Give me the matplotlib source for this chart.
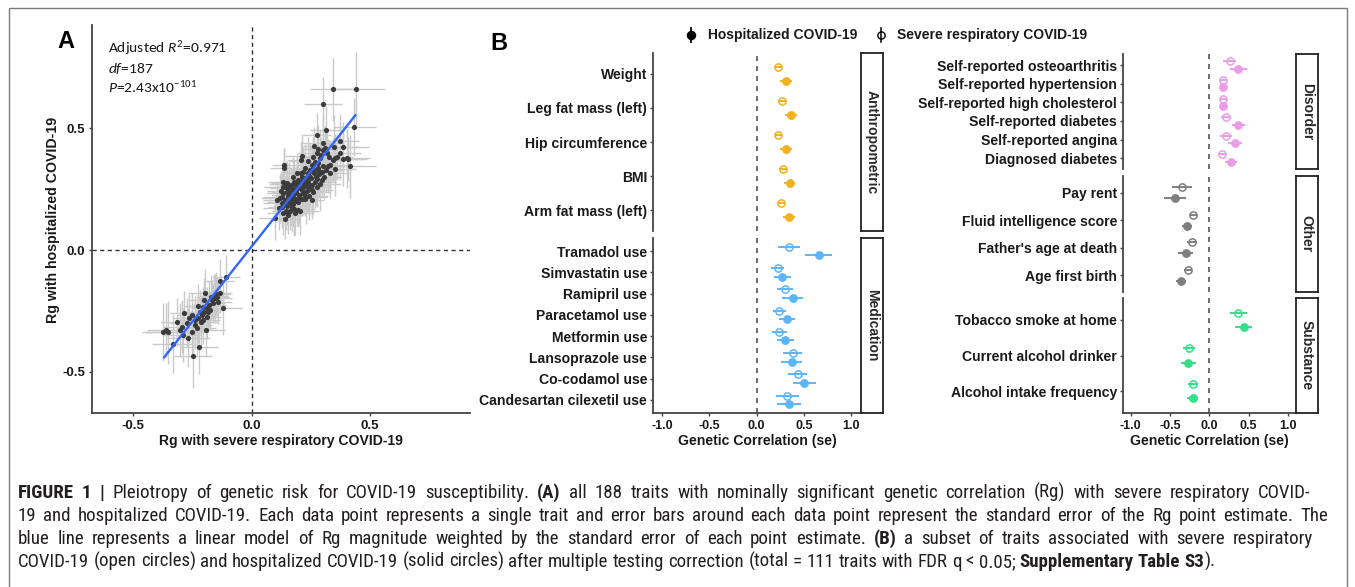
import matplotlib
matplotlib.use("Agg")
import matplotlib.pyplot as plt
from matplotlib import font_manager
from matplotlib.patches import Rectangle
import numpy as np

# ---------------- Panel A data (Rg severe vs Rg hospitalized) ----------------
rg_severe = [
    0.345, 0.441, 0.303, 0.434, 0.315, 0.275, 0.372, 0.300, 0.265, 0.348,
    0.282, 0.300, 0.275, 0.387, 0.211, 0.258, 0.289, 0.352, 0.385, 0.406,
    0.210, 0.239, 0.268, 0.303, 0.324, 0.254, 0.137, 0.137, 0.417, 0.225,
    0.261, 0.352, 0.193, 0.218, 0.239, 0.286, 0.272, 0.176, 0.211, 0.251,
    0.230, 0.268, 0.131, 0.151, 0.190, 0.165, 0.204, 0.225, 0.246, 0.134,
    0.148, 0.173, 0.194, 0.211, 0.232, 0.254, 0.159, 0.183, 0.134, 0.201,
    0.221, 0.173, 0.152, 0.120, 0.108, 0.141, 0.190, 0.211, 0.162, 0.127,
    0.176, 0.197, 0.148, 0.169, 0.117, 0.197, 0.145, 0.179, 0.134, 0.155,
    0.204, 0.100, 0.141, 0.225, 0.244, 0.261, 0.275, 0.289, 0.296, 0.306,
    0.282, 0.331, 0.345, 0.263, 0.179, 0.159, 0.239, 0.218, 0.124, 0.254,
    0.182, 0.162, 0.282, 0.292, 0.310, 0.246, 0.197, 0.128, 0.359, 0.328,
    0.232, 0.208, 0.144, 0.169, 0.189, 0.230, 0.317, 0.256, 0.401, 0.187,
    0.207, 0.225, 0.242, 0.261, 0.279, 0.156, 0.176, 0.199, 0.215, 0.145,
    0.165, 0.127, 0.221, 0.238, 0.151, 0.185, 0.275, 0.296, 0.314, 0.331,
    0.373,
    -0.373, -0.362, -0.352, -0.314, -0.303, -0.285, -0.275, -0.268, -0.254, -0.249,
    -0.239, -0.221, -0.218, -0.214, -0.207, -0.201, -0.197, -0.193, -0.190, -0.183,
    -0.179, -0.173, -0.162, -0.155, -0.151, -0.145, -0.134, -0.120, -0.108, -0.225,
    -0.211, -0.232, -0.201, -0.176, -0.254, -0.296, -0.331, -0.141, -0.239, -0.166,
    -0.187, -0.263, -0.292, -0.134, -0.159, -0.204, -0.225,
]
rg_hosp = [
    0.660, 0.663, 0.601, 0.507, 0.493, 0.474, 0.448, 0.441, 0.427, 0.425,
    0.415, 0.411, 0.400, 0.425, 0.386, 0.384, 0.378, 0.377, 0.375, 0.374,
    0.370, 0.366, 0.363, 0.345, 0.345, 0.348, 0.348, 0.338, 0.344, 0.336,
    0.332, 0.332, 0.318, 0.322, 0.315, 0.312, 0.301, 0.301, 0.301, 0.295,
    0.288, 0.281, 0.281, 0.277, 0.277, 0.267, 0.270, 0.266, 0.263, 0.260,
    0.253, 0.251, 0.253, 0.247, 0.244, 0.247, 0.240, 0.236, 0.233, 0.226,
    0.230, 0.219, 0.222, 0.212, 0.205, 0.205, 0.208, 0.211, 0.199, 0.192,
    0.189, 0.196, 0.181, 0.175, 0.171, 0.164, 0.162, 0.167, 0.151, 0.144,
    0.162, 0.130, 0.126, 0.210, 0.222, 0.240, 0.258, 0.271, 0.288, 0.301,
    0.336, 0.315, 0.370, 0.315, 0.281, 0.260, 0.281, 0.258, 0.244, 0.205,
    0.151, 0.162, 0.356, 0.390, 0.418, 0.329, 0.288, 0.219, 0.384, 0.384,
    0.301, 0.315, 0.270, 0.212, 0.240, 0.219, 0.397, 0.267, 0.377, 0.267,
    0.281, 0.295, 0.304, 0.322, 0.329, 0.226, 0.247, 0.219, 0.236, 0.199,
    0.189, 0.178, 0.274, 0.260, 0.240, 0.201, 0.290, 0.322, 0.329, 0.349,
    0.397,
    -0.336, -0.329, -0.338, -0.297, -0.329, -0.260, -0.299, -0.360, -0.267, -0.436,
    -0.288, -0.399, -0.253, -0.295, -0.233, -0.205, -0.178, -0.329, -0.274, -0.253,
    -0.226, -0.192, -0.219, -0.199, -0.181, -0.192, -0.127, -0.240, -0.110, -0.281,
    -0.267, -0.322, -0.253, -0.247, -0.336, -0.315, -0.386, -0.212, -0.308, -0.205,
    -0.240, -0.281, -0.349, -0.178, -0.189, -0.288, -0.230,
]
se_severe = [
    0.10, 0.12, 0.08, 0.09, 0.07, 0.06, 0.08, 0.09, 0.05, 0.10,
    0.07, 0.06, 0.08, 0.11, 0.07, 0.06, 0.09, 0.08, 0.10, 0.07,
    0.06, 0.08, 0.05, 0.07, 0.09, 0.06, 0.05, 0.06, 0.11, 0.08,
    0.07, 0.09, 0.06, 0.08, 0.05, 0.07, 0.09, 0.06, 0.08, 0.07,
    0.05, 0.09, 0.06, 0.07, 0.08, 0.05, 0.07, 0.09, 0.06, 0.08,
    0.07, 0.05, 0.06, 0.08, 0.07, 0.09, 0.06, 0.05, 0.07, 0.08,
    0.06, 0.07, 0.05, 0.08, 0.06, 0.07, 0.09, 0.05, 0.06, 0.08,
    0.07, 0.05, 0.06, 0.08, 0.07, 0.05, 0.06, 0.09, 0.07, 0.06,
    0.08, 0.07, 0.06, 0.05, 0.08, 0.07, 0.06, 0.09, 0.05, 0.07,
    0.06, 0.08, 0.07, 0.05, 0.06, 0.08, 0.07, 0.09, 0.06, 0.05,
    0.07, 0.06, 0.08, 0.05, 0.07, 0.09, 0.06, 0.08, 0.07, 0.05,
    0.06, 0.08, 0.07, 0.05, 0.06, 0.09, 0.07, 0.08, 0.10, 0.06,
    0.05, 0.07, 0.06, 0.08, 0.05, 0.07, 0.06, 0.09, 0.05, 0.08,
    0.07, 0.06, 0.05, 0.08, 0.07, 0.06, 0.09, 0.05, 0.07, 0.08,
    0.09,
    0.09, 0.08, 0.10, 0.07, 0.08, 0.06, 0.07, 0.09, 0.06, 0.08,
    0.07, 0.08, 0.06, 0.07, 0.05, 0.06, 0.07, 0.08, 0.06, 0.05,
    0.07, 0.06, 0.05, 0.07, 0.06, 0.05, 0.06, 0.08, 0.06, 0.07,
    0.05, 0.08, 0.06, 0.05, 0.07, 0.08, 0.09, 0.06, 0.07, 0.05,
    0.06, 0.07, 0.08, 0.05, 0.06, 0.07, 0.06,
]
se_hosp = [
    0.13, 0.15, 0.11, 0.12, 0.10, 0.09, 0.11, 0.12, 0.08, 0.13,
    0.10, 0.09, 0.11, 0.10, 0.09, 0.08, 0.12, 0.10, 0.11, 0.09,
    0.08, 0.10, 0.07, 0.09, 0.11, 0.08, 0.07, 0.08, 0.13, 0.10,
    0.09, 0.11, 0.08, 0.10, 0.07, 0.09, 0.12, 0.08, 0.10, 0.09,
    0.07, 0.11, 0.08, 0.09, 0.10, 0.07, 0.09, 0.11, 0.08, 0.10,
    0.09, 0.07, 0.08, 0.10, 0.09, 0.12, 0.08, 0.07, 0.09, 0.10,
    0.08, 0.09, 0.07, 0.10, 0.08, 0.09, 0.11, 0.07, 0.08, 0.10,
    0.09, 0.07, 0.08, 0.10, 0.09, 0.07, 0.08, 0.11, 0.09, 0.08,
    0.10, 0.09, 0.08, 0.07, 0.10, 0.09, 0.08, 0.11, 0.07, 0.09,
    0.08, 0.10, 0.09, 0.07, 0.08, 0.10, 0.09, 0.11, 0.08, 0.07,
    0.09, 0.08, 0.10, 0.07, 0.09, 0.11, 0.08, 0.10, 0.09, 0.07,
    0.08, 0.10, 0.09, 0.07, 0.08, 0.11, 0.09, 0.10, 0.12, 0.08,
    0.07, 0.09, 0.08, 0.10, 0.07, 0.09, 0.08, 0.11, 0.07, 0.10,
    0.09, 0.08, 0.07, 0.10, 0.09, 0.08, 0.11, 0.07, 0.09, 0.10,
    0.11,
    0.12, 0.11, 0.13, 0.10, 0.11, 0.09, 0.10, 0.12, 0.09, 0.13,
    0.10, 0.11, 0.09, 0.10, 0.08, 0.09, 0.10, 0.11, 0.09, 0.08,
    0.10, 0.09, 0.08, 0.10, 0.09, 0.08, 0.09, 0.11, 0.09, 0.10,
    0.08, 0.11, 0.09, 0.08, 0.10, 0.11, 0.12, 0.09, 0.10, 0.08,
    0.09, 0.10, 0.11, 0.08, 0.09, 0.10, 0.09,
]
# weighted linear model, read as its two end points
fit_x = [-0.373, 0.441]
fit_y = [-0.445, 0.558]
annot_lines = [r"Adjusted $\mathit{R}^{2}$=0.971", r"$\mathit{df}$=187", r"$\mathit{P}$=2.43x10$^{-101}$"]
ticks_A = [-0.5, 0.0, 0.5]
ticklabels_A = ["-0.5", "0.0", "0.5"]

# ---------------- Panel B data ----------------
anthro_traits = ["Weight", "Leg fat mass (left)", "Hip circumference", "BMI", "Arm fat mass (left)"]
anthro_severe = [0.23, 0.27, 0.23, 0.28, 0.26]
anthro_severe_se = [0.04, 0.04, 0.04, 0.04, 0.04]
anthro_hosp = [0.31, 0.36, 0.31, 0.35, 0.34]
anthro_hosp_se = [0.06, 0.065, 0.06, 0.06, 0.06]

med_traits = ["Tramadol use", "Simvastatin use", "Ramipril use", "Paracetamol use",
              "Metformin use", "Lansoprazole use", "Co-codamol use", "Candesartan cilexetil use"]
med_severe = [0.34, 0.22, 0.30, 0.24, 0.24, 0.38, 0.435, 0.325]
med_severe_se = [0.115, 0.07, 0.085, 0.065, 0.08, 0.10, 0.10, 0.12]
med_hosp = [0.655, 0.27, 0.38, 0.325, 0.30, 0.37, 0.505, 0.34]
med_hosp_se = [0.14, 0.09, 0.11, 0.085, 0.09, 0.11, 0.12, 0.13]

dis_traits = ["Self-reported osteoarthritis", "Self-reported hypertension", "Self-reported high cholesterol",
              "Self-reported diabetes", "Self-reported angina", "Diagnosed diabetes"]
dis_severe = [0.26, 0.17, 0.18, 0.21, 0.21, 0.165]
dis_severe_se = [0.085, 0.04, 0.045, 0.065, 0.075, 0.055]
dis_hosp = [0.37, 0.18, 0.18, 0.37, 0.33, 0.275]
dis_hosp_se = [0.105, 0.04, 0.045, 0.085, 0.09, 0.08]

oth_traits = ["Pay rent", "Fluid intelligence score", "Father's age at death", "Age first birth"]
oth_severe = [-0.35, -0.20, -0.22, -0.27]
oth_severe_se = [0.125, 0.045, 0.065, 0.055]
oth_hosp = [-0.43, -0.28, -0.30, -0.36]
oth_hosp_se = [0.14, 0.06, 0.10, 0.065]

sub_traits = ["Tobacco smoke at home", "Current alcohol drinker", "Alcohol intake frequency"]
sub_severe = [0.37, -0.255, -0.21]
sub_severe_se = [0.105, 0.075, 0.065]
sub_hosp = [0.44, -0.265, -0.21]
sub_hosp_se = [0.11, 0.095, 0.07]

ticks_B = [-1.0, -0.5, 0.0, 0.5, 1.0]
ticklabels_B = ["-1.0", "-0.5", "0.0", "0.5", "1.0"]

caption = [
    "**FIGURE 1 |** Pleiotropy of genetic risk for COVID-19 susceptibility. **(A)** all 188 traits with nominally significant genetic correlation (Rg) with severe respiratory COVID-",
    "19 and hospitalized COVID-19. Each data point represents a single trait and error bars around each data point represent the standard error of the Rg point estimate. The",
    "blue line represents a linear model of Rg magnitude weighted by the standard error of each point estimate. **(B)** a subset of traits associated with severe respiratory",
    "COVID-19 (open circles) and hospitalized COVID-19 (solid circles) after multiple testing correction (total = 111 traits with FDR q < 0.05; **Supplementary Table S3**).",
]

# ---------------- setup ----------------
W, H = 1355, 587
fl = font_manager.fontManager.ttflist
names = {f.name for f in fl}


def has_bold(name):
    return any(f.name == name and f.style == 'normal' and int(f.weight) >= 600 for f in fl)


SANS = 'Liberation Sans' if 'Liberation Sans' in names else 'DejaVu Sans'
NARROW = SANS
for cand in ['Liberation Sans Narrow', 'Roboto Condensed', 'Archivo Narrow', 'PT Sans Narrow',
             'Pragati Narrow', 'Arimo Narrow', 'IBM Plex Sans Condensed', 'Fira Sans Condensed']:
    if cand in names and has_bold(cand):
        NARROW = cand
        break
ANNOT = 'Carlito' if 'Carlito' in names else ('Lato' if 'Lato' in names else SANS)
plt.rcParams['font.family'] = [SANS, 'DejaVu Sans']
plt.rcParams['mathtext.fontset'] = 'custom'
plt.rcParams['mathtext.rm'] = ANNOT
plt.rcParams['mathtext.it'] = ANNOT + ':italic'
plt.rcParams['mathtext.bf'] = ANNOT + ':bold'

fig = plt.figure(figsize=(W / 100, H / 100), dpi=100)
fig.patch.set_facecolor('white')
renderer = fig.canvas.get_renderer()


def box(l, t, r, b):
    return [l / W, 1 - b / H, (r - l) / W, (b - t) / H]


def measure(s, **kw):
    t = fig.text(0, 0, s, **kw)
    w = t.get_window_extent(renderer).width
    t.remove()
    return w


def fit(s, target, **kw):
    return 10.0 * target / measure(s, fontsize=10, **kw)


INK = '#1a1a1a'
AXC = '#444444'

# overlay for border, legend, caption
ov = fig.add_axes([0, 0, 1, 1], zorder=-1)
ov.set_xlim(0, W)
ov.set_ylim(H, 0)
ov.axis('off')
ov.add_patch(Rectangle((9, 8), 1338, 700, fill=False, ec='#7a7a7a', lw=1.0))

# ---------------- Panel A ----------------
axA = fig.add_axes(box(92.3, 25, 470, 413.3))
axA.errorbar(rg_severe, rg_hosp, xerr=se_severe, yerr=se_hosp, fmt='none',
             ecolor='#CACACA', elinewidth=1.0, zorder=1)
axA.axvline(0, color='#333333', lw=1.0, ls=(0, (3, 2.5)), zorder=2)
axA.axhline(0, color='#333333', lw=1.0, ls=(0, (3, 2.5)), zorder=2)
axA.scatter(rg_severe, rg_hosp, s=14, color='#3B3B3B', linewidths=0, zorder=3)
axA.plot(fit_x, fit_y, color='#3366FF', lw=1.7, zorder=4, solid_capstyle='butt')
axA.set_xlim(-0.673, 0.922)
axA.set_ylim(-0.671, 0.925)
for s in ['top', 'right']:
    axA.spines[s].set_visible(False)
for s in ['left', 'bottom']:
    axA.spines[s].set_color(AXC)
    axA.spines[s].set_linewidth(1.3)
fsA = fit("-0.5", 23, fontweight='bold')
axA.set_xticks(ticks_A)
axA.set_xticklabels(ticklabels_A, fontweight='bold', fontsize=fsA, color=INK)
axA.set_yticks(ticks_A)
axA.set_yticklabels(ticklabels_A, fontweight='bold', fontsize=fsA, color=INK)
axA.tick_params(length=2.5, width=1.0, color=AXC, pad=2.5)

fx = fit("Rg with severe respiratory COVID-19", 245, fontweight='bold')
fig.text(281 / W, 1 - 441 / H, "Rg with severe respiratory COVID-19", fontsize=fx,
         fontweight='bold', ha='center', va='center', color=INK)
fy = fit("Rg with hospitalized COVID-19", 206, fontweight='bold')
fig.text(53 / W, 1 - 220 / H, "Rg with hospitalized COVID-19", fontsize=fy,
         fontweight='bold', ha='center', va='center', rotation=90, color=INK)
fig.text(66 / W, 1 - 42 / H, "A", fontsize=17, fontweight='bold', ha='center', va='center', color='black')
fa = fit(annot_lines[0], 119, family=ANNOT)
for txt, yy in zip(annot_lines, [49, 68, 88]):
    fig.text(108 / W, 1 - yy / H, txt, fontsize=fa, family=ANNOT, ha='left', va='center', color=INK)

# ---------------- Panel B ----------------
fig.text(499 / W, 1 - 44 / H, "B", fontsize=17, fontweight='bold', ha='center', va='center', color='black')

fs_ylab = fit("Self-reported osteoarthritis", 181, fontweight='bold')
fs_xt = fit("-1.0", 21.7, fontweight='bold')
fs_strip = fit("Anthropometric", 104, fontweight='bold')
fs_xlab = fit("Genetic Correlation (se)", 159, fontweight='bold')


def facet(l, t, r, b, traits, sev, sev_se, hosp, hosp_se, color, strip, bottom):
    ax = fig.add_axes(box(l, t, r, b))
    n = len(traits)
    pos = np.arange(n)
    ax.axvline(0, color='#555555', lw=1.2, ls=(0, (3, 3)), zorder=1)
    ax.errorbar(sev, pos - 0.2, xerr=sev_se, fmt='o', ms=5.2, mfc='none', mec=color, mew=1.1,
                ecolor=color, elinewidth=1.4, capsize=0, zorder=3)
    ax.errorbar(hosp, pos + 0.2, xerr=hosp_se, fmt='o', ms=5.8, mfc=color, mec=color, mew=0.5,
                ecolor=color, elinewidth=1.4, capsize=0, zorder=3)
    ax.set_xlim(-1.1, 1.1)
    ax.set_ylim(n - 1 + 0.6, -0.6)
    ax.set_yticks(pos)
    ax.set_yticklabels(traits, fontweight='bold', fontsize=fs_ylab, color=INK)
    for s in ['top', 'right']:
        ax.spines[s].set_visible(False)
    ax.spines['left'].set_color(AXC)
    ax.spines['left'].set_linewidth(1.3)
    ax.tick_params(axis='y', length=2.5, width=1.0, color=AXC, pad=1.5)
    if bottom:
        ax.spines['bottom'].set_color(AXC)
        ax.spines['bottom'].set_linewidth(1.3)
        ax.set_xticks(ticks_B)
        ax.set_xticklabels(ticklabels_B, fontweight='bold', fontsize=fs_xt, color=INK)
        ax.tick_params(axis='x', length=2.5, width=1.0, color=AXC, pad=2.5)
    else:
        ax.spines['bottom'].set_visible(False)
        ax.set_xticks([])
    sa = fig.add_axes(box(r, t, r + 22, b))
    sa.set_xticks([])
    sa.set_yticks([])
    for s in sa.spines.values():
        s.set_color('#222222')
        s.set_linewidth(1.3)
    sa.text(0.5, 0.5, strip, rotation=-90, ha='center', va='center', fontsize=fs_strip,
            fontweight='bold', color='#2a2a2a', transform=sa.transAxes)
    return ax


C_ANTH = '#F2B11E'
C_MED = '#5BB5F7'
C_DIS = '#EC9DE9'
C_OTH = '#7F7F7F'
C_SUB = '#33DF88'

facet(652.7, 53.3, 860.7, 230.7, anthro_traits, anthro_severe, anthro_severe_se,
      anthro_hosp, anthro_hosp_se, C_ANTH, "Anthropometric", False)
facet(652.7, 238.3, 860.7, 412.7, med_traits, med_severe, med_severe_se,
      med_hosp, med_hosp_se, C_MED, "Medication", True)
facet(1122.7, 54, 1295.7, 169.3, dis_traits, dis_severe, dis_severe_se,
      dis_hosp, dis_hosp_se, C_DIS, "Disorder", False)
facet(1122.7, 176, 1295.7, 291.7, oth_traits, oth_severe, oth_severe_se,
      oth_hosp, oth_hosp_se, C_OTH, "Other", False)
facet(1122.7, 298.3, 1295.7, 412.7, sub_traits, sub_severe, sub_severe_se,
      sub_hosp, sub_hosp_se, C_SUB, "Substance", True)

fig.text(757 / W, 1 - 441 / H, "Genetic Correlation (se)", fontsize=fs_xlab, fontweight='bold',
         ha='center', va='center', color=INK)
fig.text(1209 / W, 1 - 441 / H, "Genetic Correlation (se)", fontsize=fs_xlab, fontweight='bold',
         ha='center', va='center', color=INK)

# legend
fs_leg = fit("Hospitalized COVID-19", 150, fontweight='bold')
ov.plot([690.7, 690.7], [28, 42], color='black', lw=1.3)
ov.plot([690.7], [35], 'o', ms=5.8, color='black')
ov.text(708, 35, "Hospitalized COVID-19", fontsize=fs_leg, fontweight='bold', ha='left', va='center', color=INK)
ov.plot([881, 881], [28, 42], color='black', lw=1.1)
ov.plot([881], [35], 'o', ms=5.2, mfc='none', mec='black', mew=1.0)
ov.text(897, 35, "Severe respiratory COVID-19", fontsize=fs_leg, fontweight='bold', ha='left', va='center', color=INK)


# ---------------- caption ----------------
def parse(line, state):
    words = []
    for w in line.split(' '):
        runs = []
        parts = w.split('**')
        for k, p in enumerate(parts):
            if k > 0:
                state = not state
            if p:
                runs.append((p, state))
        words.append(runs)
    return words, state


CAPC = '#231F20'
parsed = []
st = False
for ln in caption:
    wds, st = parse(ln, st)
    parsed.append(wds)


def run_w(txt, bold, fs):
    return measure(txt, fontsize=fs, family=NARROW, fontweight='bold' if bold else 'normal')


def natural(words, fs):
    sp = run_w("a a", False, fs) - run_w("aa", False, fs)
    tot = sum(run_w(t, b, fs) for w in words for (t, b) in w)
    return tot + sp * (len(words) - 1)


fs_cap = 10.0 * 1192 / natural(parsed[3], 10.0)
fs_cap = min(fs_cap, 14.5)
targets = [1310 - 18, 1328 - 18, 1313 - 18, None]
baselines = [498, 521, 544, 567]
for words, tgt, yb in zip(parsed, targets, baselines):
    widths = [sum(run_w(t, b, fs_cap) for (t, b) in w) for w in words]
    if tgt is None:
        gap = run_w("a a", False, fs_cap) - run_w("aa", False, fs_cap)
    else:
        gap = (tgt - sum(widths)) / (len(words) - 1)
    x = 18.0
    for w, wd in zip(words, widths):
        xx = x
        for (t, b) in w:
            ov.text(xx, yb, t, fontsize=fs_cap, family=NARROW, fontweight='bold' if b else 'normal',
                    ha='left', va='baseline', color=CAPC)
            xx += run_w(t, b, fs_cap)
        x += wd + gap

fig.savefig("out.png", dpi=100, facecolor='white')
